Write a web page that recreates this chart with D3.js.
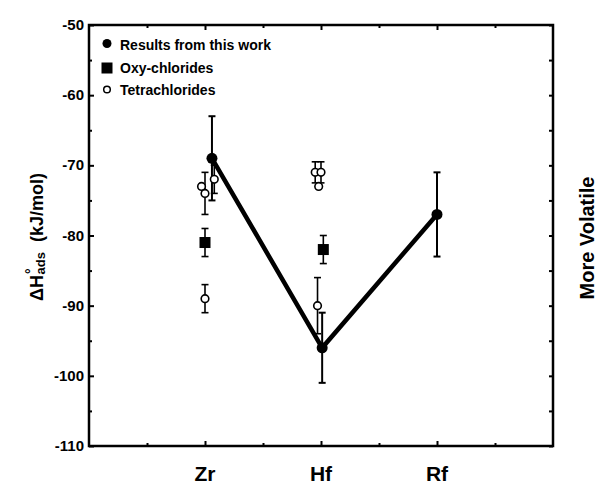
<!DOCTYPE html>
<html>
<head>
<meta charset="utf-8">
<script src="https://cdn.jsdelivr.net/npm/d3@7"></script>
<style>
  html, body { margin: 0; padding: 0; background: #fff; }
  svg { display: block; }
  text { font-family: "Liberation Sans", Arial, Helvetica, sans-serif; font-weight: bold; fill: #000; }
</style>
</head>
<body>
<svg id="chart" width="606" height="485"></svg>
<script>
// Elements on the x axis (category positions 1, 2, 3)
const elements = ["Zr", "Hf", "Rf"];
const elementPos = [1, 2, 3];

// Results from this work: x position, ΔH (kJ/mol), error (±)
const resultX = [1.06, 2.01, 3.0];
const resultH = [-69, -96, -77];
const resultErr = [6, 5, 6];

// Oxy-chlorides
const oxyX = [1.0, 2.02];
const oxyH = [-81, -82];
const oxyErr = [2, 2];

// Tetrachlorides
const tetraX = [0.97, 1.0, 1.08, 1.0, 1.95, 2.0, 1.98, 1.97];
const tetraH = [-73, -74, -72, -89, -71, -71, -73, -90];
const tetraErr = [0, 3, 2, 2, 1.5, 1.5, 0, 4];

// Axis ticks
const yMajorTicks = [-50, -60, -70, -80, -90, -100, -110];
const yMinorTicks = [-55, -65, -75, -85, -95, -105];
const xMinorTicks = [0.5, 1.5, 2.5, 3.5];

const legendLabels = ["Results from this work", "Oxy-chlorides", "Tetrachlorides"];

const svg = d3.select("#chart");
const plotLeft = 89, plotRight = 553, plotTop = 25, plotBottom = 446;

const x = d3.scaleLinear().domain([0, 4]).range([plotLeft, plotRight]);
const y = d3.scaleLinear().domain([-110, -50]).range([plotBottom, plotTop]);

// Frame
svg.append("rect")
  .attr("x", plotLeft).attr("y", plotTop)
  .attr("width", plotRight - plotLeft).attr("height", plotBottom - plotTop)
  .attr("fill", "none").attr("stroke", "#000").attr("stroke-width", 2.5);

function tickGroup(axis, tx, ty, values, size) {
  svg.append("g").attr("transform", `translate(${tx},${ty})`)
    .call(axis.tickValues(values).tickSize(size).tickFormat(""))
    .call(g => g.select(".domain").remove())
    .selectAll("line").attr("stroke", "#000").attr("stroke-width", 2);
}

// Inward ticks on all four sides
tickGroup(d3.axisRight(y), plotLeft, 0, yMajorTicks, 5);
tickGroup(d3.axisRight(y), plotLeft, 0, yMinorTicks, 3);
tickGroup(d3.axisLeft(y), plotRight, 0, yMajorTicks.concat(yMinorTicks), 4);
tickGroup(d3.axisTop(x), 0, plotBottom, elementPos, 5);
tickGroup(d3.axisTop(x), 0, plotBottom, xMinorTicks, 3);
tickGroup(d3.axisBottom(x), 0, plotTop, elementPos, 5);
tickGroup(d3.axisBottom(x), 0, plotTop, xMinorTicks, 3);

// Y tick labels
svg.append("g").selectAll("text").data(yMajorTicks).join("text")
  .attr("x", plotLeft - 5).attr("y", d => y(d) + 5)
  .attr("text-anchor", "end").attr("font-size", 15)
  .text(d => d);

// Element labels
svg.append("g").selectAll("text").data(elements).join("text")
  .attr("x", (d, i) => x(elementPos[i]))
  .attr("y", 481)
  .attr("text-anchor", "middle").attr("font-size", 21)
  .text(d => d);

// Y axis title: ΔH°ads (kJ/mol)
const yTitle = svg.append("text")
  .attr("transform", "translate(43,301) rotate(-90)")
  .attr("text-anchor", "start").attr("font-size", 18);
yTitle.append("tspan").text("\u0394H");
yTitle.append("tspan").attr("dx", 1).attr("dy", -7).attr("font-size", 14).text("\u00B0");
yTitle.append("tspan").attr("dx", -6).attr("dy", 9).attr("font-size", 13).text("ads");
yTitle.append("tspan").attr("dy", -2).text("\u00A0\u00A0(kJ/mol)");

// Right side title
svg.append("text")
  .attr("transform", "translate(594,238) rotate(-90)")
  .attr("text-anchor", "middle").attr("font-size", 20)
  .text("More Volatile");

// Error bars helper
function errorBars(xs, hs, errs, width) {
  const g = svg.append("g").attr("stroke", "#000").attr("stroke-width", width);
  hs.forEach((h, i) => {
    if (!errs[i]) return;
    const cx = x(xs[i]);
    const y1 = y(h + errs[i]), y2 = y(h - errs[i]);
    g.append("line").attr("x1", cx).attr("x2", cx).attr("y1", y1).attr("y2", y2);
    g.append("line").attr("x1", cx - 3.5).attr("x2", cx + 3.5).attr("y1", y1).attr("y2", y1);
    g.append("line").attr("x1", cx - 3.5).attr("x2", cx + 3.5).attr("y1", y2).attr("y2", y2);
  });
}

errorBars(tetraX, tetraH, tetraErr, 1.6);
errorBars(oxyX, oxyH, oxyErr, 1.6);
errorBars(resultX, resultH, resultErr, 2);

// Connecting line for results
const line = d3.line().x((d, i) => x(resultX[i])).y(d => y(d));
svg.append("path").datum(resultH)
  .attr("d", line).attr("fill", "none")
  .attr("stroke", "#000").attr("stroke-width", 4.5).attr("stroke-linejoin", "miter");

// Tetrachlorides: open circles
svg.append("g").selectAll("circle").data(tetraH).join("circle")
  .attr("cx", (d, i) => x(tetraX[i])).attr("cy", d => y(d))
  .attr("r", 3.8).attr("fill", "#fff").attr("stroke", "#000").attr("stroke-width", 1.6);

// Oxy-chlorides: filled squares
const sq = 11;
svg.append("g").selectAll("rect").data(oxyH).join("rect")
  .attr("x", (d, i) => x(oxyX[i]) - sq / 2).attr("y", d => y(d) - sq / 2)
  .attr("width", sq).attr("height", sq).attr("fill", "#000");

// Results: filled circles
svg.append("g").selectAll("circle").data(resultH).join("circle")
  .attr("cx", (d, i) => x(resultX[i])).attr("cy", d => y(d))
  .attr("r", 5.5).attr("fill", "#000");

// Legend
const legend = svg.append("g");
const legendY = [44.5, 68, 89.5];
legendLabels.forEach((label, i) => {
  const ly = legendY[i];
  if (i === 0) legend.append("circle").attr("cx", 107).attr("cy", ly - 1).attr("r", 4.5).attr("fill", "#000");
  if (i === 1) legend.append("rect").attr("x", 101.5).attr("y", ly - 5.5).attr("width", 11).attr("height", 11).attr("fill", "#000");
  if (i === 2) legend.append("circle").attr("cx", 107).attr("cy", ly).attr("r", 3.3).attr("fill", "#fff").attr("stroke", "#000").attr("stroke-width", 1.5);
  legend.append("text").attr("x", 120).attr("y", ly + 5).attr("font-size", 14).text(label);
});
</script>
</body>
</html>
